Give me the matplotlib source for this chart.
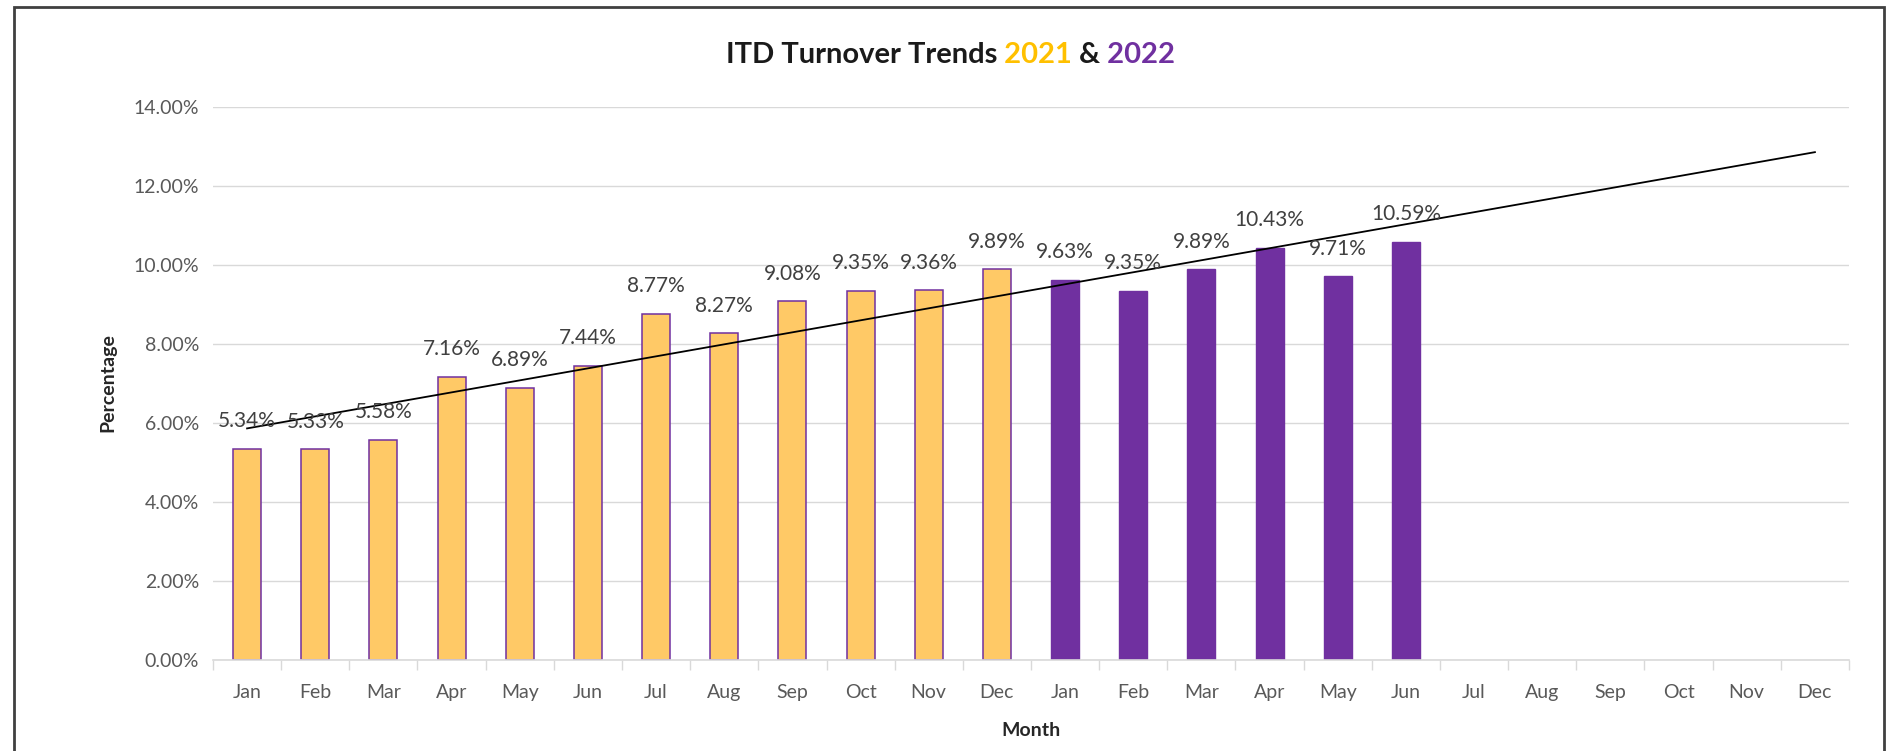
import numpy as np
import matplotlib
matplotlib.use('Agg')
import matplotlib.pyplot as plt
from matplotlib.patches import Rectangle

# ---- data ----
months = ['Jan', 'Feb', 'Mar', 'Apr', 'May', 'Jun',
          'Jul', 'Aug', 'Sep', 'Oct', 'Nov', 'Dec']
turnover_2021 = [5.34, 5.33, 5.58, 7.16, 6.89, 7.44, 8.77, 8.27, 9.08, 9.35, 9.36, 9.89]
turnover_2022 = [9.63, 9.35, 9.89, 10.43, 9.71, 10.59]
yticks = [0, 2, 4, 6, 8, 10, 12, 14]

GOLD = '#FFC966'
PURPLE = '#7030A0'
GRID = '#D9D9D9'
TXT = '#595959'

plt.rcParams['font.family'] = ['Lato', 'DejaVu Sans']

W, H = 1886, 751
fig = plt.figure(figsize=(W / 100, H / 100), dpi=100)

# plot area in pixel coords: left 213, right 1849, top 107, bottom 660
ax = fig.add_axes([213 / W, 1 - 660 / H, (1849 - 213) / W, (660 - 107) / H])

x21 = np.arange(len(turnover_2021))
x22 = np.arange(len(turnover_2022)) + 12
labels = months + months

ax.bar(x21, turnover_2021, width=0.41, color=GOLD, edgecolor=PURPLE, linewidth=1.1, zorder=2)
ax.bar(x22, turnover_2022, width=0.41, color=PURPLE, edgecolor=PURPLE, linewidth=1.0, zorder=2)

# linear trendline over all observed months, extended to end of 2022
x_all = np.concatenate([x21, x22])
y_all = np.array(turnover_2021 + turnover_2022)
slope, intercept = np.polyfit(x_all, y_all, 1)
xt = np.array([0, 23])
ax.plot(xt, slope * xt + intercept, color='black', linewidth=1.3, zorder=3)

# data labels
for xi, v in zip(x_all, y_all):
    ax.annotate(f'{v:.2f}%', xy=(xi, v), xytext=(0, 20), textcoords='offset points',
                ha='center', va='center', fontsize=15, color='#404040', zorder=4)

ax.set_xlim(-0.5, 23.5)
ax.set_ylim(0, 14)
ax.set_yticks(yticks)
ax.set_yticklabels([f'{t:.2f}%' for t in yticks], fontsize=14, color=TXT)
ax.set_xticks(np.arange(24))
ax.set_xticklabels(labels, fontsize=14, color=TXT)
ax.set_xticks(np.arange(25) - 0.5, minor=True)
ax.tick_params(axis='x', which='major', length=0, pad=17)
ax.tick_params(axis='x', which='minor', length=7, color=GRID, width=1)
ax.tick_params(axis='y', length=0, pad=10)

ax.grid(axis='y', color=GRID, linewidth=1, zorder=0)
ax.set_axisbelow(True)
for s in ['left', 'right', 'top']:
    ax.spines[s].set_visible(False)
ax.spines['bottom'].set_color(GRID)
ax.spines['bottom'].set_linewidth(1.2)

fig.text(108 / W, 1 - 383 / H, 'Percentage', rotation=90, ha='center', va='center',
         fontsize=14, fontweight='bold', color='#262626')
fig.text(1031 / W, 1 - 730 / H, 'Month', ha='center', va='center',
         fontsize=14, fontweight='bold', color='#262626')

# title with coloured years, pieces chained left to right
t1 = fig.text(726 / W, 1 - 68 / H, 'ITD Turnover Trends', fontsize=21, fontweight='bold',
              color='#1a1a1a', ha='left', va='bottom')
a2 = ax.annotate(' 2021', xy=(1, 0), xycoords=t1, fontsize=21, fontweight='bold',
                 color='#FFC000', ha='left', va='bottom', annotation_clip=False)
a3 = ax.annotate(' &', xy=(1, 0), xycoords=a2, fontsize=21, fontweight='bold',
                 color='#1a1a1a', ha='left', va='bottom', annotation_clip=False)
a4 = ax.annotate(' 2022', xy=(1, 0), xycoords=a3, fontsize=21, fontweight='bold',
                 color='#7030A0', ha='left', va='bottom', annotation_clip=False)

# outer frame like the pasted chart object
fig.patches.append(Rectangle((14 / W, -0.02), (1884 - 14) / W, 1 - 7 / H + 0.02,
                             transform=fig.transFigure, fill=False,
                             edgecolor='#404040', linewidth=2))

fig.savefig('out.png', dpi=100)
